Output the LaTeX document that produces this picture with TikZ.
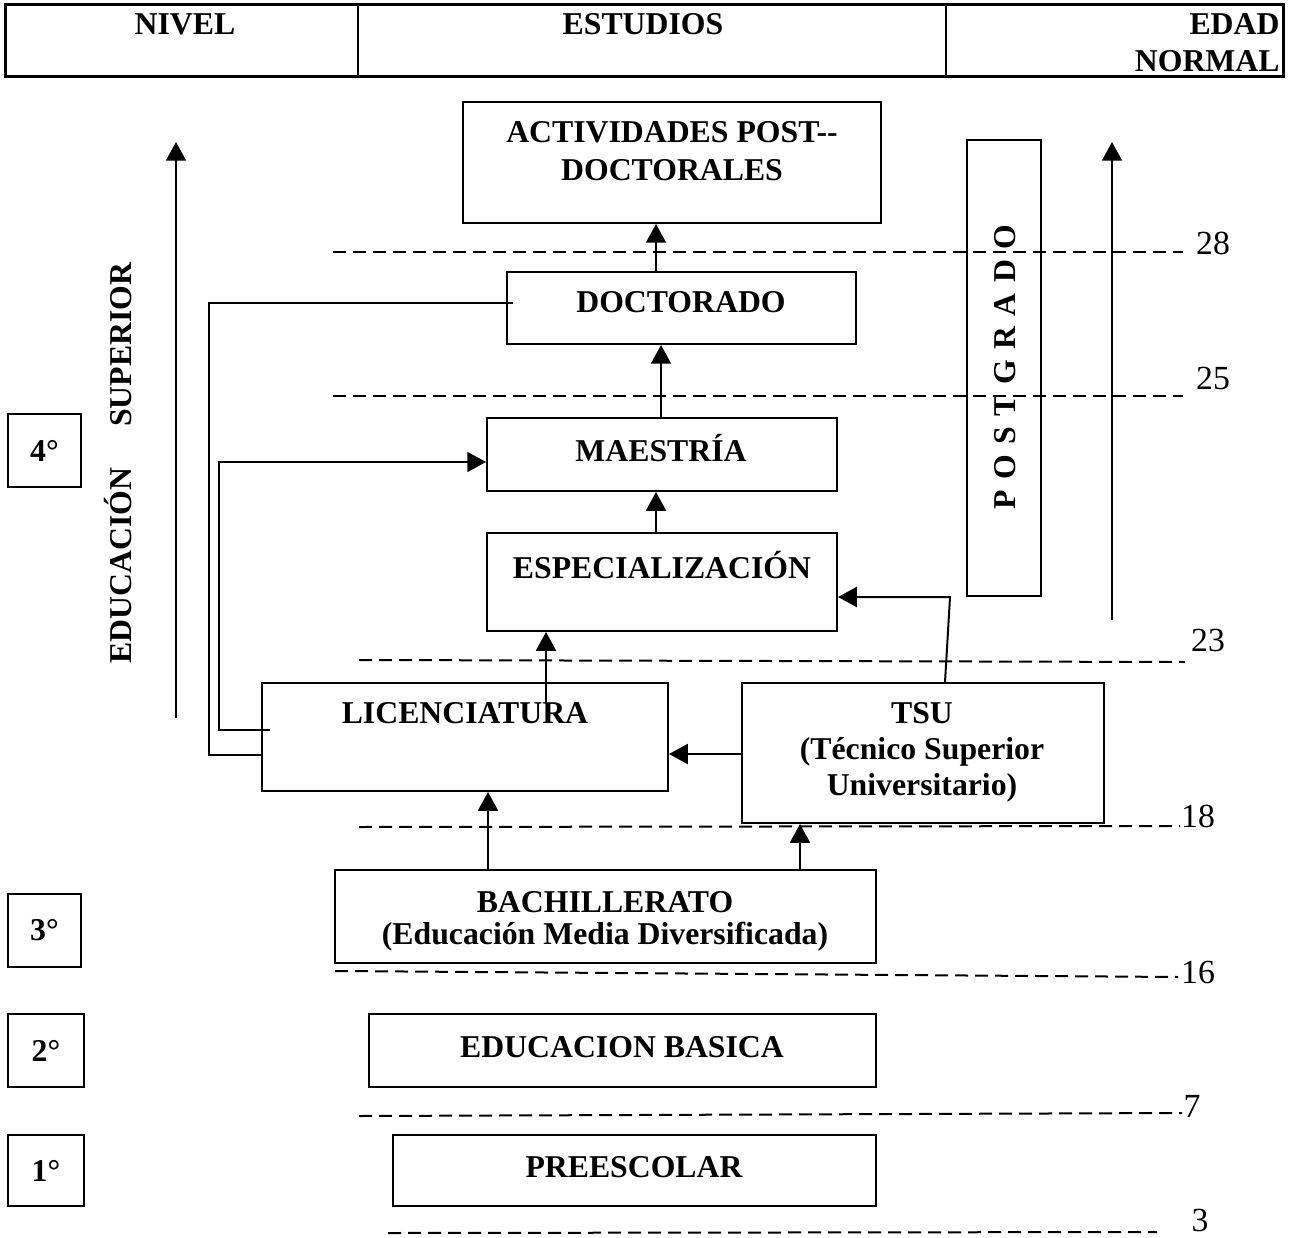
\documentclass[tikz,border=0pt]{standalone}
\usepackage{fontspec}
\setmainfont{Liberation Serif}
\usetikzlibrary{arrows.meta,fit}
\begin{document}
\begin{tikzpicture}[x=0.4pt,y=-0.4pt,
  box/.style={draw, line width=0.8pt, inner sep=0pt},
  lbl/.style={font=\fontsize{12.7}{15}\selectfont\bfseries, inner sep=0pt},
  num/.style={font=\fontsize{13.5}{16}\selectfont, inner sep=0pt},
  arr/.style={line width=0.8pt, -{Triangle[length=7.5pt,width=8pt]}},
  conn/.style={line width=0.8pt},
  dsh/.style={line width=0.8pt, dash pattern=on 5.2pt off 2.8pt}]
\useasboundingbox (0,0) rectangle (1290,1237);

% header table
\node[box, line width=1.2pt, fit={(5,5) (1283,77)}] (hdr) {};
\coordinate (d1) at (358,0);
\coordinate (d2) at (946,0);
\draw[line width=1pt] (hdr.north -| d1) -- (hdr.south -| d1);
\draw[line width=1pt] (hdr.north -| d2) -- (hdr.south -| d2);
\node[lbl] at (185,24) {NIVEL};
\node[lbl] at (643,24) {ESTUDIOS};
\node[lbl, anchor=east] at (1280,24) {EDAD};
\node[lbl, anchor=east] at (1280,61) {NORMAL};

% boxes
\node[box, fit={(463,102) (881,223)}] (act) {};
\node[lbl, align=center] at (672,151) {ACTIVIDADES POST-{}-\\DOCTORALES};
\node[box, fit={(507,272) (856,344)}] (doc) {};
\node[lbl] at (681,302) {DOCTORADO};
\node[box, fit={(487,418) (837,491)}] (mae) {};
\node[lbl] at (661,448) {MAESTRÍA};
\node[box, fit={(487,533) (837,631)}] (esp) {};
\node[lbl] at (662,565) {ESPECIALIZACIÓN};
\node[box, fit={(967,140) (1041,596)}] (post) {};
\node[lbl, rotate=90] at (1005,367) {P\hspace{4.2pt}O\hspace{4.2pt}S\hspace{4.2pt}T\hspace{4.2pt}G\hspace{4.2pt}R\hspace{4.2pt}A\hspace{4.2pt}D\hspace{4.2pt}O};
\node[box, fit={(262,683) (668,791)}] (lic) {};
\node[lbl] at (465,713) {LICENCIATURA};
\node[box, fit={(742,683) (1104,823)}] (tsu) {};
\node[lbl] at (922,713) {TSU};
\node[lbl] at (922,752) {(Técnico Superior};
\node[lbl] at (922,788) {Universitario)};
\node[box, fit={(335,870) (876,963)}] (bach) {};
\node[lbl] at (605,902) {BACHILLERATO};
\node[lbl] at (605,937) {(Educación Media Diversificada)};
\node[box, fit={(369,1014) (876,1087)}] (eb) {};
\node[lbl] at (622,1047) {EDUCACION BASICA};
\node[box, fit={(393,1135) (876,1206)}] (pre) {};
\node[lbl] at (634,1167) {PREESCOLAR};

% level boxes
\node[box, fit={(8,414) (81,487)}] (n4) {};
\node[lbl] at (n4) {4°};
\node[box, fit={(8,894) (81,967)}] (n3) {};
\node[lbl] at (n3) {3°};
\node[box, fit={(8,1014) (84,1087)}] (n2) {};
\node[lbl] at (n2) {2°};
\node[box, fit={(8,1135) (84,1206)}] (n1) {};
\node[lbl] at (n1) {1°};

% side labels and arrows
\node[lbl, rotate=90] at (118,463) {EDUCACIÓN\hspace{16.4pt}SUPERIOR};
\coordinate (la0) at (176,718);
\coordinate (la1) at (176,142);
\draw[arr] (la0) -- (la1);
\coordinate (ra0) at (1112,620);
\coordinate (ra1) at (1112,142);
\draw[arr] (ra0) -- (ra1);

% connectors
\coordinate (c1) at (656,0);
\coordinate (c2) at (661,0);
\coordinate (c4) at (488,0);
\coordinate (c5) at (800,0);
\coordinate (c6) at (945,0);
\coordinate (r1) at (0,754);
\draw[arr] (doc.north -| c1) -- (act.south -| c1);
\draw[arr] (mae.north -| c2) -- (doc.south -| c2);
\draw[arr] (esp.north -| c1) -- (mae.south -| c1);
\coordinate (licin) at (546,703);
\draw[arr] (licin) -- (esp.south -| licin);
\draw[arr] (bach.north -| c4) -- (lic.south -| c4);
\draw[arr] (bach.north -| c5) -- (tsu.south -| c5);
\draw[arr] (tsu.west |- r1) -- (lic.east |- r1);
\coordinate (tbend) at (950,597);
\draw[arr] (tsu.north -| c6) -- (tbend) -- (esp.east |- tbend);
\coordinate (dstart) at (513,303);
\coordinate (o1) at (209,303);
\coordinate (o2) at (209,755);
\draw[conn] (dstart) -- (o1) -- (o2) -- (lic.west |- o2);
\coordinate (i0) at (270,730);
\coordinate (i1) at (219,730);
\coordinate (i2) at (219,462);
\draw[arr] (i0) -- (i1) -- (i2) -- (mae.west |- i2);

% age lines
\draw[dsh] (333,252) -- (1183,252);
\node[num] at (1213,243) {28};
\draw[dsh] (333,396) -- (1183,396);
\node[num] at (1213,378) {25};
\draw[dsh] (359,660) -- (1185,662);
\node[num] at (1208,640) {23};
\draw[dsh] (359,827) -- (1180,826);
\node[num] at (1198,816) {18};
\draw[dsh] (335,971) -- (1178,977);
\node[num] at (1198,972) {16};
\draw[dsh] (359,1116) -- (1182,1113);
\node[num] at (1192,1106) {7};
\draw[dsh] (388,1233) -- (1157,1232);
\node[num] at (1200,1220) {3};
\end{tikzpicture}
\end{document}
